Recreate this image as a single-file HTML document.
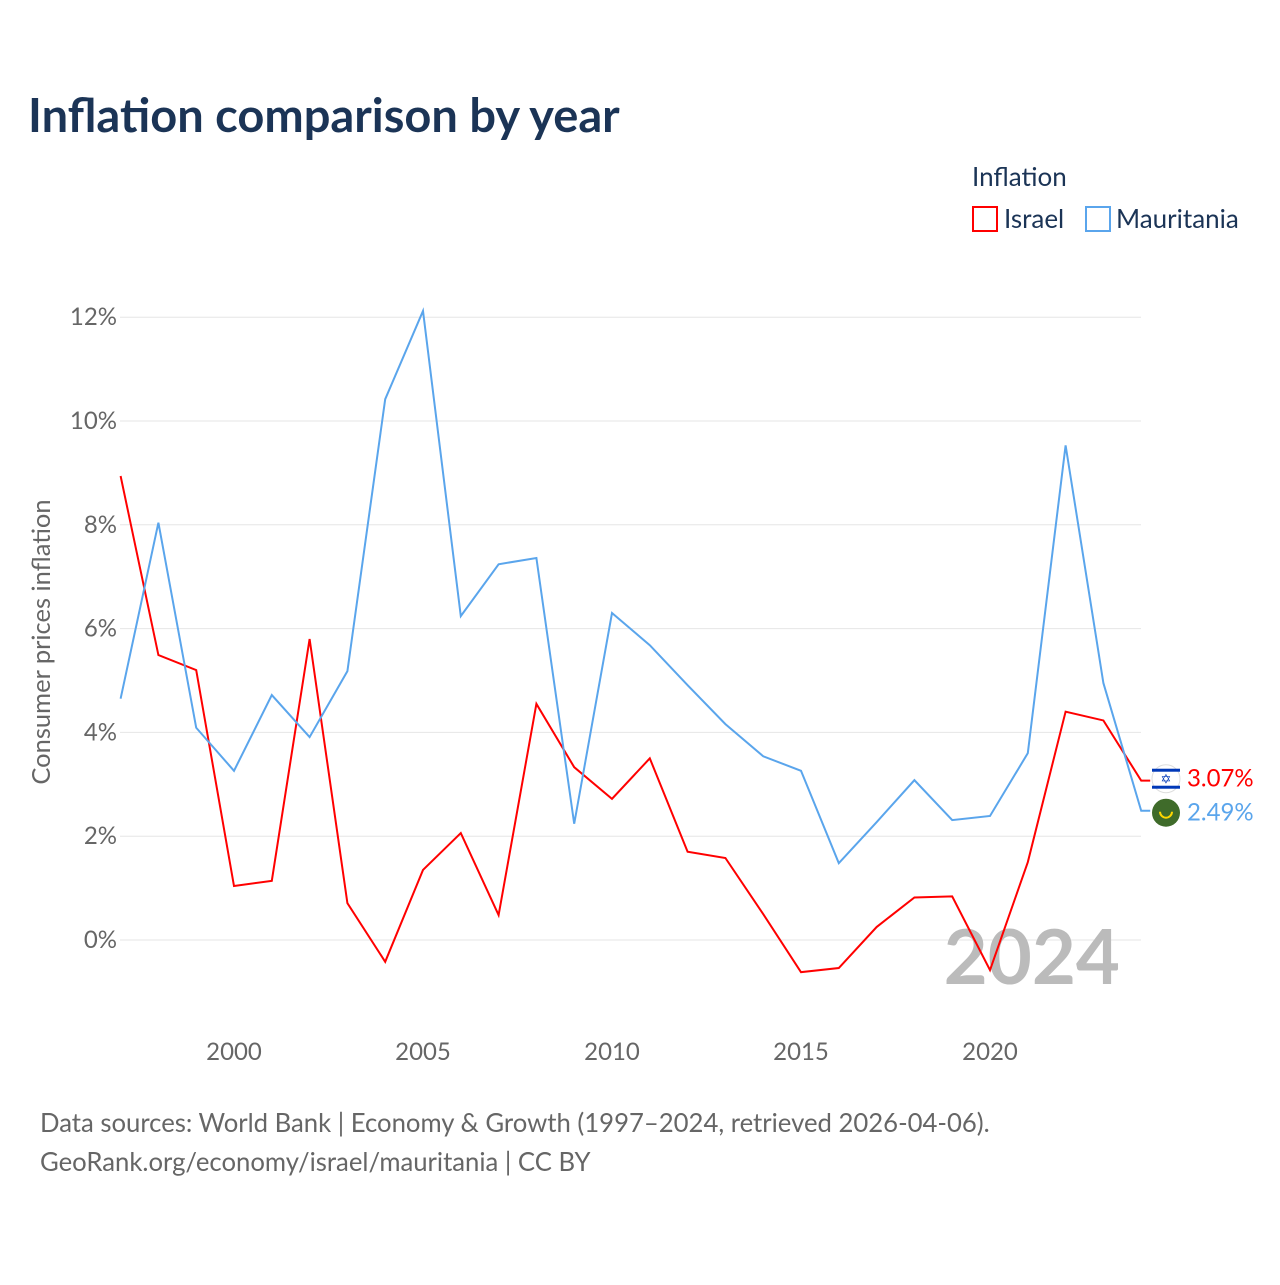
<!DOCTYPE html>
<html><head><meta charset="utf-8"><style>
body{margin:0;background:#fff;font-family:"Liberation Sans",sans-serif}
svg text{font-family:"Lato","Liberation Sans",sans-serif}
</style></head><body>
<svg width="1280" height="1280" id="chart">
<text x="28" y="132" font-size="47" font-weight="bold" fill="#1b3456">Inflation comparison by year</text>
<text x="972" y="186" font-size="26" fill="#1b3456">Inflation</text>
<g><rect x="973" y="207" width="24" height="24" fill="none" stroke="#f00" stroke-width="2"/><text x="1004" y="228" font-size="26" fill="#1b3456">Israel</text></g>
<g><rect x="1086" y="207" width="24" height="24" fill="none" stroke="#5aa5ec" stroke-width="2"/><text x="1116" y="228" font-size="26" fill="#1b3456">Mauritania</text></g>
<text transform="translate(50,642) rotate(-90)" text-anchor="middle" font-size="25.5" fill="#666">Consumer prices inflation</text>
<g id="grid"></g><g id="yt"></g><g id="xt"></g>
<text x="1120" y="984" text-anchor="end" font-size="76" font-weight="bold" fill="#bbb">2024</text>
<g id="series"></g>
<text x="40" y="1132" font-size="25.7" fill="#666">Data sources: World Bank | Economy &amp; Growth (1997–2024, retrieved 2026-04-06).</text>
<text x="40" y="1171" font-size="25.7" fill="#666">GeoRank.org/economy/israel/mauritania | CC BY</text>
</svg>
<script>
const years=[1997,1998,1999,2000,2001,2002,2003,2004,2005,2006,2007,2008,2009,2010,2011,2012,2013,2014,2015,2016,2017,2018,2019,2020,2021,2022,2023,2024];
const israel=[8.94,5.49,5.2,1.04,1.14,5.8,0.71,-0.42,1.35,2.06,0.48,4.55,3.33,2.72,3.5,1.7,1.58,0.5,-0.62,-0.54,0.25,0.82,0.84,-0.58,1.5,4.4,4.23,3.07];
const mauritania=[4.65,8.04,4.09,3.26,4.72,3.91,5.18,10.42,12.12,6.24,7.24,7.36,2.24,6.3,5.68,4.91,4.16,3.54,3.26,1.48,2.27,3.08,2.31,2.39,3.6,9.53,4.95,2.49];
const yTicks=[0,2,4,6,8,10,12];
const xTicks=[2000,2005,2010,2015,2020];
const NS="http://www.w3.org/2000/svg";
const x=v=>120.6+(v-1997)*37.8;
const y=v=>940-v*51.9;
function mk(t,a,p){const e=document.createElementNS(NS,t);for(const k in a)e.setAttribute(k,a[k]);p.appendChild(e);return e;}
const grid=document.getElementById('grid'),yt=document.getElementById('yt'),xt=document.getElementById('xt'),ser=document.getElementById('series');
yTicks.forEach(v=>{
 const l=mk('line',{x1:120,x2:1141,y1:y(v),y2:y(v),stroke:'#e6e6e6','stroke-width':1},grid);
 
 
 const t=mk('text',{x:117,y:y(v)+8,'text-anchor':'end','font-size':24,fill:'#666'},yt);
 t.textContent=v+'%';
 
 
});
xTicks.forEach(v=>{
 const t=mk('text',{x:x(v),y:1060,'text-anchor':'middle','font-size':24,fill:'#666'},xt);
 t.textContent=v;
 
 
});
function line(data,col,name){
 const pts=data.map((v,i)=>x(years[i])+','+y(v));
 const last=data[data.length-1];
 pts.push((x(years[years.length-1])+9)+','+y(last));
 const p=mk('polyline',{points:pts.join(' '),fill:'none',stroke:col,'stroke-width':2},ser);
 
 
}
line(israel,'#f00','israel');
line(mauritania,'#5aa5ec','mauritania');
const li=israel[israel.length-1],lm=mauritania[mauritania.length-1];
let yi=y(li),ym=y(lm);
if(ym-yi<34){const m=(yi+ym)/2;yi=m-17;ym=m+17;}
const f1=mk('g',{},ser);


mk('circle',{cx:1166,cy:yi,r:14,fill:'#fff',stroke:'#ddd'},f1);
mk('rect',{x:1152,y:yi-10,width:28,height:3,fill:'#0038b8'},f1);
mk('rect',{x:1152,y:yi+7,width:28,height:3,fill:'#0038b8'},f1);
const st=mk('text',{x:1166,y:yi+5,'text-anchor':'middle','font-size':13,fill:'#0038b8'},f1);st.textContent='✡';
const f2=mk('g',{},ser);


mk('circle',{cx:1166,cy:ym,r:14,fill:'#3f6b2a'},f2);
mk('path',{d:`M1160 ${ym-1} a6 6 0 0 0 12 0`,fill:'none',stroke:'#ffd700','stroke-width':2},f2);
const t1=mk('text',{x:1187,y:yi+8,'font-size':24,fill:'#f00'},ser);t1.textContent=li.toFixed(2)+'%';


const t2=mk('text',{x:1187,y:ym+8,'font-size':24,fill:'#5aa5ec'},ser);t2.textContent=lm.toFixed(2)+'%';


</script>
</body></html>
